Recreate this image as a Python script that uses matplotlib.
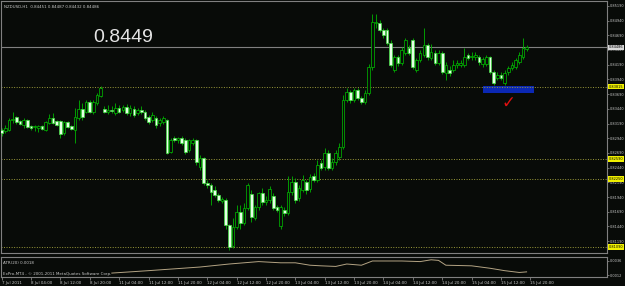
import matplotlib
matplotlib.use("Agg")
import matplotlib.pyplot as plt
import matplotlib.transforms as mtransforms

# NZDUSD H1, 7 Jul 2011 20:00 .. 15 Jul 2011 19:00
opens = [
    0.8308, 0.8306, 0.8308, 0.8325, 0.8330, 0.8323, 0.8316, 0.8325, 0.8315, 0.8313,
    0.8311, 0.8315, 0.8308, 0.8320, 0.8328, 0.8323, 0.8323, 0.8303, 0.8322, 0.8315,
    0.8308, 0.8328, 0.8344, 0.8339, 0.8355, 0.8339, 0.8354, 0.8366, 0.8344, 0.8339,
    0.8342, 0.8337, 0.8345, 0.8342, 0.8347, 0.8337, 0.8344, 0.8337, 0.8342, 0.8339,
    0.8330, 0.8325, 0.8328, 0.8320, 0.8322, 0.8325, 0.8271, 0.8294, 0.8291, 0.8294,
    0.8291, 0.8274, 0.8286, 0.8291, 0.8245, 0.8260, 0.8218, 0.8214, 0.8206, 0.8197,
    0.8187, 0.8189, 0.8146, 0.8111, 0.8143, 0.8169, 0.8150, 0.8175, 0.8199, 0.8158,
    0.8177, 0.8201, 0.8186, 0.8189, 0.8196, 0.8177, 0.8145, 0.8172, 0.8167, 0.8203,
    0.8220, 0.8192, 0.8206, 0.8220, 0.8208, 0.8230, 0.8223, 0.8252, 0.8245, 0.8269,
    0.8243, 0.8253, 0.8262, 0.8279, 0.8359, 0.8373, 0.8359, 0.8376, 0.8362, 0.8355,
    0.8371, 0.8415, 0.8490, 0.8490, 0.8478, 0.8478, 0.8456, 0.8410, 0.8432, 0.8422,
    0.8439, 0.8447, 0.8461, 0.8410, 0.8427, 0.8436, 0.8452, 0.8430, 0.8439, 0.8422,
    0.8439, 0.8405, 0.8410, 0.8410, 0.8418, 0.8418, 0.8418, 0.8436, 0.8432, 0.8432,
    0.8432, 0.8420, 0.8420, 0.8432, 0.8407, 0.8396, 0.8401, 0.8388, 0.8407, 0.8413,
    0.8415, 0.8424, 0.8432, 0.8446]
highs = [
    0.8311, 0.8316, 0.8328, 0.8339, 0.8332, 0.8325, 0.8328, 0.8327, 0.8316, 0.8316,
    0.8316, 0.8316, 0.8323, 0.8335, 0.8337, 0.8325, 0.8325, 0.8323, 0.8323, 0.8316,
    0.8345, 0.8359, 0.8354, 0.8359, 0.8359, 0.8359, 0.8371, 0.8383, 0.8349, 0.8350,
    0.8349, 0.8354, 0.8350, 0.8350, 0.8352, 0.8350, 0.8349, 0.8345, 0.8349, 0.8342,
    0.8334, 0.8339, 0.8332, 0.8328, 0.8332, 0.8327, 0.8294, 0.8298, 0.8296, 0.8298,
    0.8294, 0.8293, 0.8294, 0.8293, 0.8265, 0.8262, 0.8223, 0.8218, 0.8213, 0.8201,
    0.8194, 0.8192, 0.8148, 0.8158, 0.8181, 0.8181, 0.8184, 0.8218, 0.8206, 0.8181,
    0.8203, 0.8209, 0.8196, 0.8213, 0.8201, 0.8181, 0.8181, 0.8177, 0.8230, 0.8230,
    0.8226, 0.8214, 0.8231, 0.8223, 0.8233, 0.8235, 0.8257, 0.8257, 0.8277, 0.8274,
    0.8260, 0.8274, 0.8286, 0.8367, 0.8379, 0.8376, 0.8379, 0.8379, 0.8366, 0.8376,
    0.8420, 0.8505, 0.8505, 0.8495, 0.8481, 0.8481, 0.8461, 0.8436, 0.8436, 0.8449,
    0.8464, 0.8452, 0.8464, 0.8430, 0.8444, 0.8481, 0.8456, 0.8454, 0.8444, 0.8444,
    0.8442, 0.8424, 0.8417, 0.8427, 0.8427, 0.8427, 0.8447, 0.8439, 0.8441, 0.8441,
    0.8436, 0.8432, 0.8436, 0.8434, 0.8410, 0.8407, 0.8407, 0.8410, 0.8417, 0.8424,
    0.8430, 0.8441, 0.8464, 0.8452]
lows = [
    0.8298, 0.8303, 0.8306, 0.8320, 0.8318, 0.8316, 0.8311, 0.8311, 0.8308, 0.8306,
    0.8305, 0.8308, 0.8306, 0.8318, 0.8318, 0.8315, 0.8294, 0.8299, 0.8311, 0.8308,
    0.8286, 0.8325, 0.8325, 0.8337, 0.8337, 0.8335, 0.8350, 0.8364, 0.8337, 0.8335,
    0.8337, 0.8334, 0.8337, 0.8339, 0.8334, 0.8332, 0.8330, 0.8334, 0.8335, 0.8325,
    0.8318, 0.8322, 0.8311, 0.8315, 0.8318, 0.8267, 0.8269, 0.8288, 0.8286, 0.8283,
    0.8267, 0.8271, 0.8283, 0.8248, 0.8240, 0.8214, 0.8209, 0.8181, 0.8194, 0.8186,
    0.8184, 0.8140, 0.8104, 0.8107, 0.8140, 0.8140, 0.8146, 0.8172, 0.8152, 0.8155,
    0.8172, 0.8181, 0.8181, 0.8184, 0.8172, 0.8169, 0.8140, 0.8162, 0.8164, 0.8197,
    0.8184, 0.8187, 0.8203, 0.8199, 0.8203, 0.8220, 0.8220, 0.8240, 0.8240, 0.8240,
    0.8240, 0.8248, 0.8257, 0.8276, 0.8355, 0.8354, 0.8355, 0.8359, 0.8352, 0.8352,
    0.8367, 0.8410, 0.8481, 0.8475, 0.8464, 0.8452, 0.8415, 0.8407, 0.8417, 0.8418,
    0.8436, 0.8436, 0.8412, 0.8407, 0.8424, 0.8432, 0.8427, 0.8427, 0.8418, 0.8418,
    0.8403, 0.8393, 0.8400, 0.8407, 0.8413, 0.8415, 0.8415, 0.8427, 0.8427, 0.8427,
    0.8418, 0.8415, 0.8417, 0.8403, 0.8384, 0.8393, 0.8393, 0.8384, 0.8401, 0.8410,
    0.8412, 0.8420, 0.8429, 0.8442]
closes = [
    0.8303, 0.8311, 0.8325, 0.8326, 0.8322, 0.8318, 0.8325, 0.8313, 0.8311, 0.8315,
    0.8315, 0.8310, 0.8322, 0.8328, 0.8320, 0.8316, 0.8301, 0.8322, 0.8313, 0.8310,
    0.8330, 0.8344, 0.8330, 0.8355, 0.8339, 0.8355, 0.8367, 0.8379, 0.8339, 0.8342,
    0.8340, 0.8345, 0.8339, 0.8347, 0.8337, 0.8345, 0.8334, 0.8342, 0.8339, 0.8328,
    0.8322, 0.8334, 0.8316, 0.8325, 0.8328, 0.8269, 0.8291, 0.8291, 0.8294, 0.8286,
    0.8271, 0.8291, 0.8291, 0.8253, 0.8260, 0.8218, 0.8214, 0.8203, 0.8197, 0.8189,
    0.8191, 0.8146, 0.8109, 0.8143, 0.8169, 0.8150, 0.8175, 0.8214, 0.8160, 0.8177,
    0.8201, 0.8186, 0.8189, 0.8208, 0.8175, 0.8172, 0.8177, 0.8167, 0.8203, 0.8220,
    0.8189, 0.8209, 0.8223, 0.8206, 0.8228, 0.8223, 0.8248, 0.8243, 0.8269, 0.8243,
    0.8253, 0.8269, 0.8279, 0.8359, 0.8373, 0.8359, 0.8376, 0.8362, 0.8355, 0.8371,
    0.8415, 0.8492, 0.8492, 0.8478, 0.8469, 0.8456, 0.8418, 0.8432, 0.8422, 0.8444,
    0.8461, 0.8439, 0.8415, 0.8427, 0.8439, 0.8452, 0.8432, 0.8441, 0.8422, 0.8439,
    0.8407, 0.8418, 0.8405, 0.8418, 0.8422, 0.8422, 0.8432, 0.8430, 0.8434, 0.8436,
    0.8424, 0.8429, 0.8432, 0.8407, 0.8388, 0.8401, 0.8396, 0.8405, 0.8413, 0.8418,
    0.8427, 0.8436, 0.8447, 0.8449]

# ATR(20) read at some bars
atr_bars = [30, 40, 54, 62, 70, 76, 80, 84, 87, 91, 94, 98, 101, 109, 114, 117, 119,
            121, 128, 133, 137, 141, 143]
atr_vals = [0.0016, 0.0020, 0.0026, 0.0031, 0.0035, 0.0033, 0.0033, 0.0029, 0.0028,
            0.0027, 0.0031, 0.0029, 0.0036, 0.0036, 0.0035, 0.0038, 0.0037, 0.0029,
            0.0028, 0.0024, 0.0020, 0.0017, 0.0018]

hlines = [0.83815, 0.82590, 0.82250, 0.81090]
current = 0.84486
zone = (131.1, 145.0, 0.8371, 0.8383)  # bar from, bar to, price low, price high

price_ticks = [0.8519, 0.8494, 0.8469, 0.8444, 0.8419, 0.8394, 0.8369, 0.8344, 0.8319,
               0.8294, 0.8269, 0.8244, 0.8219, 0.8194, 0.8169, 0.8144, 0.8119]
time_labels = ["7 Jul 2011", "8 Jul 04:00", "8 Jul 12:00", "8 Jul 20:00",
               "11 Jul 04:00", "11 Jul 12:00", "11 Jul 20:00", "12 Jul 04:00",
               "12 Jul 12:00", "12 Jul 20:00", "13 Jul 04:00", "13 Jul 12:00",
               "13 Jul 20:00", "14 Jul 04:00", "14 Jul 12:00", "14 Jul 20:00",
               "15 Jul 04:00", "15 Jul 12:00", "15 Jul 20:00"]

BG = "#080b08"
TXT = "#c8c8c8"
GRAY = "#808080"
SMALL = 2.9
RSMALL = 2.55

fig = plt.figure(figsize=(6.25, 2.86), dpi=100, facecolor=BG)
ax = fig.add_axes([1 / 625, 1 - 253 / 286, 606 / 625, 252 / 286])
ax2 = fig.add_axes([1 / 625, 1 - 277 / 286, 606 / 625, 20 / 286])

n = len(closes)
xs = list(range(n))
for a in (ax, ax2):
    a.set_facecolor(BG)
    for s in a.spines.values():
        s.set_color(GRAY)
        s.set_linewidth(0.8)
    a.set_xlim(-0.19, 164.9)

# candles
ax.vlines(xs, lows, highs, color="#00b400", lw=0.6, zorder=2)
for i in range(n):
    o, c = opens[i], closes[i]
    bot = min(o, c)
    h = max(abs(c - o), 0.00004)
    if c >= o:
        ax.bar(i, h, bottom=bot, width=0.72, facecolor=BG, edgecolor="#00c000",
               lw=0.5, zorder=3)
    else:
        ax.bar(i, h, bottom=bot, width=0.72, facecolor="#e6ffe6", edgecolor="#40e040",
               lw=0.5, zorder=3)

ax.set_ylim(0.80989, 0.85273)

# blue zone and lines
ax.fill_between([zone[0], zone[1]], zone[2], zone[3], color="#0b28b4", lw=0, zorder=1)
ax.axhline(current, color=GRAY, lw=0.8, zorder=1)
for lv in hlines:
    ax.axhline(lv, color="#9a9a3a", lw=0.7, ls=(0, (1, 1.6)), zorder=1.5)

# price axis
ax.yaxis.tick_right()
ax.set_yticks(price_ticks)
ax.set_yticklabels([f"{t:.5f}" for t in price_ticks])
ax.tick_params(axis="y", colors=GRAY, labelcolor=TXT, labelsize=RSMALL, length=1.5,
               width=0.6, pad=0.6)
ax.set_xticks([])

trans = mtransforms.blended_transform_factory(ax.transAxes, ax.transData)
ax.text(1.0025, current, f"{current:.5f}", transform=trans, fontsize=RSMALL, color="black",
        va="center", ha="left", zorder=6,
        bbox=dict(boxstyle="square,pad=0.2", fc="#d8d8d8", ec="none"))
for lv in hlines:
    ax.text(1.0025, lv, f"{lv:.5f}", transform=trans, fontsize=RSMALL, color="black",
            va="center", ha="left", zorder=6,
            bbox=dict(boxstyle="square,pad=0.2", fc="#f0f000", ec="none"))

# texts
ax.text(0.005, 0.985, "NZDUSD,H1  0.84451 0.84487 0.84432 0.84486", transform=ax.transAxes,
        fontsize=SMALL, color=TXT, va="top", ha="left")
ax.text(24.9, 0.8458, "0.8449", fontsize=14, color="#e4e4e4", family="Liberation Sans",
        va="baseline", ha="left")
ax.text(138.0, 0.8354, "\u2713", fontsize=12, color="#e01010", ha="center", va="center",
        zorder=6)

# ATR panel
ax2.plot(atr_bars, atr_vals, color="#b4a484", lw=0.7)
ax2.set_ylim(0.00095, 0.00426)
ax2.yaxis.tick_right()
ax2.set_yticks([0.0036, 0.0012])
ax2.set_yticklabels(["0.0036", "0.0012"])
ax2.tick_params(axis="y", colors=GRAY, labelcolor=TXT, labelsize=RSMALL, length=1.5,
                width=0.6, pad=0.6)
ax2.set_xticks(list(range(0, 8 * len(time_labels), 8)))
ax2.set_xticklabels(time_labels, ha="left")
ax2.tick_params(axis="x", colors=GRAY, labelcolor=TXT, labelsize=SMALL, length=2,
                width=0.6, pad=1.2)
ax2.text(0.004, 0.72, "ATR(20) 0.0018", transform=ax2.transAxes, fontsize=SMALL,
         color=TXT, va="center", ha="left")
ax2.text(0.004, 0.15, "ExPro-MT4 - \u00a9 2001-2011 MetaQuotes Software Corp.",
         transform=ax2.transAxes, fontsize=SMALL, color=TXT, va="center", ha="left")

fig.savefig("out.png", dpi=100, facecolor=BG)
